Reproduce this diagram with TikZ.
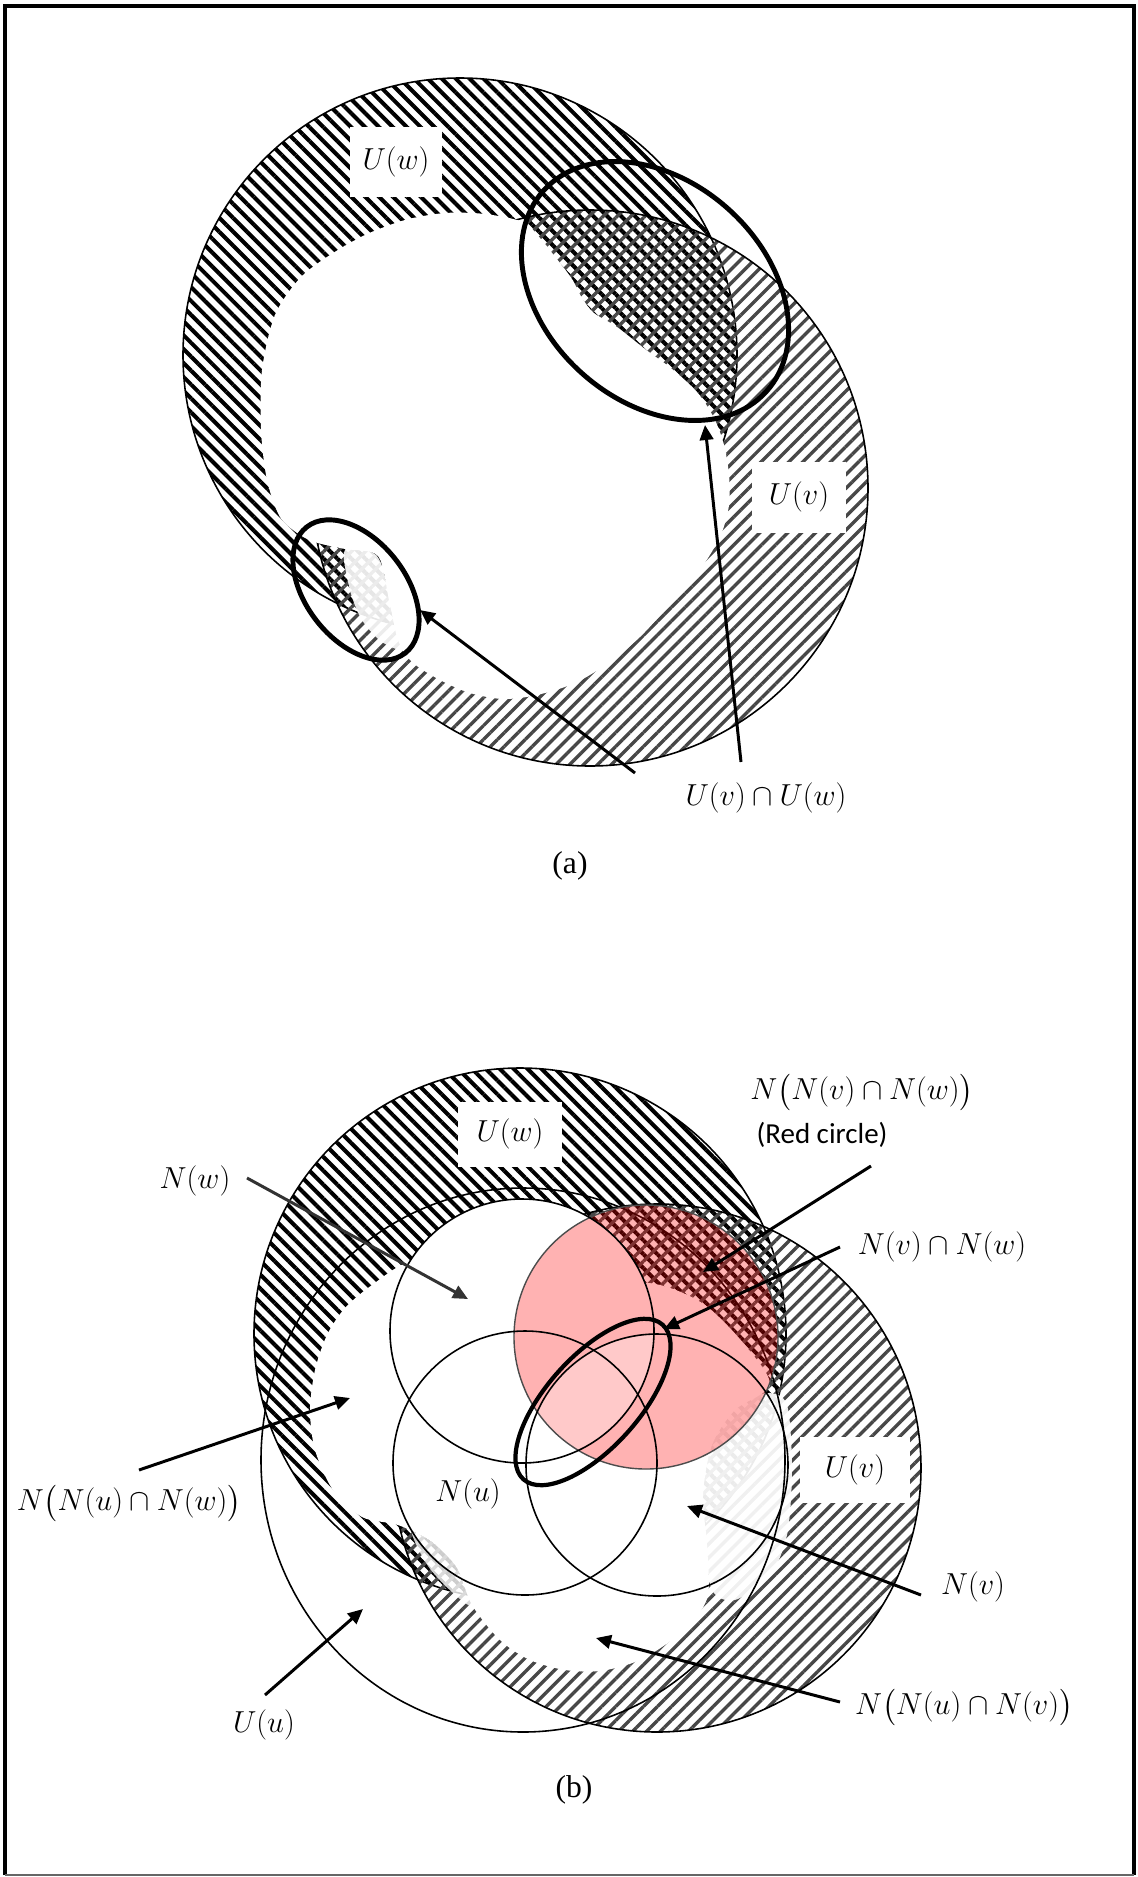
\documentclass[tikz,border=0pt]{standalone}
\usepackage[no-math]{fontspec}
\setmainfont{Liberation Serif}
\newfontfamily\timesfont{Liberation Serif}
\newfontfamily\calibri{Carlito}
\usepackage{amsmath}
\usetikzlibrary{arrows.meta, patterns.meta}

\begin{document}
\begin{tikzpicture}[
    x=0.02cm, y=-0.02cm,
    outline/.style={draw=black, line width=0.9pt},
    boldring/.style={draw=black, line width=2.8pt},
    hatchw/.style={pattern={Lines[angle=-45, distance=5.6pt, line width=2.3pt]}, pattern color=black},
    hatchv/.style={pattern={Lines[angle=45, distance=5.6pt, line width=1.9pt]}, pattern color=black!72},
    mlabel/.style={font=\fontsize{17.28}{20}\selectfont, inner sep=1pt},
    labelbox/.style={mlabel, fill=white, inner sep=0pt},
    pointer/.style={-{Triangle[length=0.3cm, width=0.27cm]}, line width=1.7pt}
]
    \useasboundingbox (0,0) rectangle (1138,1877);

    % Frame
    \draw[line width=2.3pt] (5,1875) -- (5,6) -- (1134,6) -- (1134,1875);
    \draw[black!60, line width=0.6pt] (5,1875) -- (1134,1875);

    % (a) U(w) and U(v)
    \path[hatchw] (460,355) circle (277);
    \draw[outline] (460,355) circle (277);
    \path[hatchv] (590,488) circle (278);
    \draw[outline] (590,488) circle (278);

    % (a) inner white part
    \fill[white] plot[smooth cycle, tension=0.5] coordinates {
        (300,278) (330,255) (365,235) (405,220) (445,213) (485,214) (523,222)
        (540,238) (556,258) (572,279) (582,298) (594,313) (617,327) (645,349)
        (672,369) (697,392) (714,418) (724,445) (729,475) (729,505) (722,532)
        (708,558) (688,585) (665,610) (640,637) (610,662) (575,683) (537,695)
        (503,699) (470,693) (440,680) (412,662) (398,640) (389,600) (378,556)
        (345,549) (318,543) (300,535) (280,517) (267,480) (261,430) (262,370)
        (275,315)};
    \fill[white, opacity=0.9] plot[smooth cycle, tension=0.5] coordinates {
        (345,550) (377,556) (391,602) (404,648) (382,642) (362,620) (350,590)};

    % (a) intersections
    \draw[boldring, rotate around={-42:(655,291)}] (655,291) ellipse [x radius=150, y radius=110];
    \draw[boldring, rotate around={-52:(356,590)}] (356,590) ellipse [x radius=80, y radius=50];

    % (a) labels
    \node[labelbox, minimum width=1.86cm, minimum height=1.4cm] (uwa) at (396,162) {$U(w)$};
    \node[labelbox, minimum width=1.88cm, minimum height=1.42cm] (uva) at (799,497) {$U(v)$};
    \node[mlabel] (capa) at (766,798) {$U(v)\cap U(w)$};
    \node[font=\fontsize{18}{21}\selectfont] (panela) at (570,866) {\timesfont (a)};

    % (a) arrows
    \coordinate (capa-left) at (635,773);
    \coordinate (capa-up) at (741,762);
    \coordinate (small-cap) at (420,610);
    \coordinate (big-cap) at (705,425);
    \draw[pointer] (capa-left) -- (small-cap);
    \draw[pointer] (capa-up) -- (big-cap);

    % (b) U(w) and U(v)
    \path[hatchw] (520,1334) circle (266);
    \draw[outline] (520,1334) circle (266);
    \path[hatchv] (657,1468) circle (264);
    \draw[outline] (657,1468) circle (264);

    % (b) inner white part
    \fill[white] plot[smooth cycle, tension=0.5] coordinates {
        (410,1262) (372,1285) (345,1308) (327,1335) (315,1370) (310,1410)
        (315,1450) (333,1490) (362,1517) (398,1525) (432,1542) (457,1568)
        (472,1605) (500,1640) (530,1660) (565,1670) (600,1671) (635,1662)
        (665,1645) (692,1622) (708,1595) (707,1545) (703,1495) (712,1445)
        (735,1410) (770,1385) (745,1345) (705,1305) (660,1285) (600,1280)
        (520,1285) (450,1275)};
    \fill[white, opacity=0.92] plot[smooth cycle, tension=0.5] coordinates {
        (767,1393) (787,1405) (792,1470) (787,1535) (770,1575) (735,1600)
        (712,1590) (705,1540) (703,1490) (712,1440) (735,1405)};
    \fill[white, opacity=0.8] plot[smooth cycle, tension=0.5] coordinates {
        (412,1532) (440,1548) (462,1575) (472,1606) (452,1592) (428,1566)};
    \fill[white] (522,1331) circle (132);

    % (b) U(u)
    \draw[outline] (523,1460) ellipse [x radius=262, y radius=272];

    % (b) red circle
    \fill[red, fill opacity=0.3] (646,1337) circle (132);
    \begin{scope}
        \clip (522,1331) circle (132);
        \clip (657,1465) circle (131);
        \fill[white, fill opacity=0.3] (646,1337) circle (132);
    \end{scope}
    \draw[black!70, line width=0.8pt] (646,1337) circle (132);

    % (b) N(w), N(u), N(v)
    \draw[outline] (522,1331) circle (132);
    \draw[outline] (525,1463) circle (132);
    \draw[outline] (657,1465) circle (131);

    % (b) N(v) cap N(w)
    \draw[boldring, line width=2.4pt, rotate around={48:(593,1402)}] (593,1402) ellipse [x radius=104, y radius=46];

    % (b) labels
    \node[labelbox, minimum width=2.08cm, minimum height=1.3cm] (uwb) at (510,1134) {$U(w)$};
    \node[labelbox, minimum width=2.2cm, minimum height=1.32cm] (uvb) at (855,1470) {$U(v)$};
    \node[mlabel] (nnvw) at (862,1092) {$N\bigl(N(v)\cap N(w)\bigr)$};
    \node[font=\calibri\fontsize{16.5}{19}\selectfont, inner sep=0pt] (redc) at (822,1135) {(Red circle)};
    \node[mlabel] (nw) at (195,1181) {$N(w)$};
    \node[mlabel] (nvw) at (942,1247) {$N(v)\cap N(w)$};
    \node[mlabel] (nnuw) at (129,1503) {$N\bigl(N(u)\cap N(w)\bigr)$};
    \node[mlabel] (nu) at (468,1494) {$N(u)$};
    \node[mlabel] (nv) at (973,1587) {$N(v)$};
    \node[mlabel] (uu) at (264,1725) {$U(u)$};
    \node[mlabel] (nnuv) at (964,1707) {$N\bigl(N(u)\cap N(v)\bigr)$};
    \node[font=\fontsize{18}{21}\selectfont] (panelb) at (574,1790) {\timesfont (b)};

    % (b) arrows
    \coordinate (nw-from) at (247,1178);
    \coordinate (nw-to) at (468,1299);
    \coordinate (redc-from) at (871,1166);
    \coordinate (redc-to) at (703,1272);
    \coordinate (nvw-from) at (840,1247);
    \coordinate (nvw-to) at (664,1329);
    \coordinate (nnuw-from) at (139,1470);
    \coordinate (nnuw-to) at (350,1398);
    \coordinate (nv-from) at (921,1595);
    \coordinate (nv-to) at (687,1506);
    \coordinate (nnuv-from) at (840,1702);
    \coordinate (nnuv-to) at (596,1638);
    \coordinate (uu-from) at (265,1695);
    \coordinate (uu-to) at (363,1609);
    \draw[pointer, black!80] (nw-from) -- (nw-to);
    \draw[pointer] (redc-from) -- (redc-to);
    \draw[pointer] (nvw-from) -- (nvw-to);
    \draw[pointer] (nnuw-from) -- (nnuw-to);
    \draw[pointer] (nv-from) -- (nv-to);
    \draw[pointer] (nnuv-from) -- (nnuv-to);
    \draw[pointer] (uu-from) -- (uu-to);
\end{tikzpicture}
\end{document}
